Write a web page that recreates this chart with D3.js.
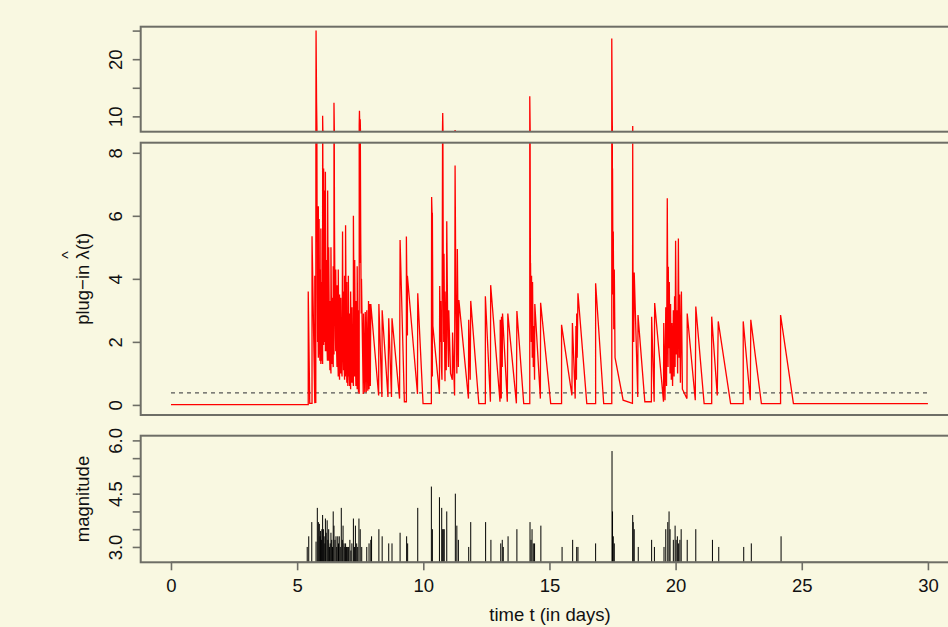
<!DOCTYPE html>
<html>
<head>
<meta charset="utf-8">
<script src="https://cdn.jsdelivr.net/npm/d3@7/dist/d3.min.js"></script>
<style>
  body { margin: 0; background: #f9f8e1; }
  svg { display: block; font-family: "Liberation Sans", Arial, Helvetica, sans-serif; }
</style>
</head>
<body>
<svg id="chart" width="948" height="627"></svg>
<script>
// plug-in intensity, [time in days, lambda]
var lambdaPts = [
  [0,0.01],[5.44,0.01],[5.44,3.6],[5.50,0.05],[5.59,0.05],[5.59,5.35],[5.70,0.05],[5.70,4.1],[5.74,0.06],
  [5.75,25.0],[5.77,12.5],[5.79,6.3],[5.80,3.5],[5.81,2.0],[5.81,5.0],[5.83,2.6],[5.84,1.5],[5.84,6.3],
  [5.86,2.5],[5.87,1.6],[5.87,5.9],[5.89,2.4],[5.90,1.4],[5.90,4.3],[5.92,1.8],[5.94,1.3],[5.94,5.6],
  [5.96,2.0],[5.97,1.4],[5.97,3.9],[5.99,1.6],[6.01,1.3],[6.01,10.1],[6.03,4.8],[6.04,2.6],[6.05,1.9],
  [6.05,7.5],[6.07,3.4],[6.09,2.0],[6.09,6.8],[6.11,3.0],[6.12,1.7],[6.12,7.4],[6.14,3.0],[6.16,1.7],
  [6.16,4.6],[6.18,2.0],[6.20,1.4],[6.21,6.8],[6.23,2.6],[6.25,1.4],[6.25,5.0],[6.28,1.9],[6.30,1.1],
  [6.30,3.3],[6.32,1.5],[6.34,1.0],[6.34,5.0],[6.37,1.9],[6.39,1.3],[6.39,3.4],[6.41,1.5],[6.43,1.2],
  [6.43,4.4],[6.45,2.2],[6.46,1.6],[6.46,12.4],[6.48,5.8],[6.50,3.2],[6.52,2.1],[6.53,1.7],[6.53,4.3],
  [6.56,1.9],[6.58,1.2],[6.58,3.8],[6.61,1.6],[6.63,0.9],[6.63,4.3],[6.66,1.6],[6.68,0.8],[6.68,3.5],
  [6.71,1.4],[6.73,1.0],[6.73,3.4],[6.75,1.3],[6.78,0.9],[6.80,5.5],[6.82,2.0],[6.84,1.1],[6.84,3.6],
  [6.86,1.4],[6.88,0.8],[6.88,4.1],[6.90,1.5],[6.91,0.9],[6.92,5.7],[6.95,1.6],[6.97,0.7],[6.97,3.9],
  [6.99,1.3],[7.01,0.6],[7.01,2.5],[7.03,0.9],[7.03,4.1],[7.06,1.1],[7.08,0.6],[7.08,2.9],[7.10,1.0],
  [7.12,0.5],[7.12,3.6],[7.15,1.2],[7.17,0.7],[7.17,3.1],[7.20,1.0],[7.23,0.6],[7.23,6.0],[7.26,2.2],
  [7.28,0.9],[7.28,4.6],[7.31,1.5],[7.33,0.6],[7.33,3.3],[7.36,1.1],[7.38,0.5],[7.38,4.4],[7.41,1.4],
  [7.43,0.4],[7.43,3.0],[7.45,0.8],[7.46,0.35],[7.46,8.5],[7.47,11.0],[7.49,6.8],[7.50,4.5],[7.50,9.5],
  [7.52,5.4],[7.54,2.9],[7.55,4.0],[7.62,0.35],[7.63,2.9],[7.68,0.4],[7.70,2.95],[7.74,0.4],[7.76,3.0],
  [7.80,0.45],[7.83,3.3],[7.85,0.5],[7.87,3.2],[7.90,0.6],[7.92,3.2],[8.23,0.3],[8.24,3.2],[8.36,0.25],
  [8.37,3.0],[8.60,0.25],[8.63,2.75],[8.74,0.25],[8.76,2.75],[9.06,0.2],[9.08,5.23],[9.25,0.1],[9.33,0.1],
  [9.33,5.34],[9.37,2.2],[9.37,4.1],[9.77,0.35],[9.78,3.54],[9.99,0.04],[10.32,0.04],[10.33,6.6],
  [10.35,6.0],[10.36,0.9],[10.36,6.1],[10.38,2.5],[10.64,0.35],[10.65,3.77],[10.68,2.0],[10.69,3.3],
  [10.72,1.2],[10.74,0.8],[10.77,10.6],[10.79,4.8],[10.81,2.0],[10.82,4.8],[10.85,1.5],[10.86,0.75],
  [10.86,3.6],[10.91,1.1],[10.93,5.83],[10.97,2.2],[11.00,1.2],[11.01,3.0],[11.08,1.0],[11.15,0.8],
  [11.16,2.3],[11.24,0.3],[11.26,7.6],[11.29,3.5],[11.33,1.0],[11.35,4.95],[11.38,2.0],[11.39,1.2],
  [11.41,3.33],[11.79,0.2],[11.80,2.7],[11.86,0.8],[11.88,3.3],[12.20,0.04],[12.46,0.04],[12.46,3.45],
  [12.66,0.1],[12.67,3.8],[13.04,0.1],[13.05,2.7],[13.09,0.2],[13.10,2.8],[13.13,1.2],[13.14,2.9],
  [13.33,0.1],[13.35,2.9],[13.69,0.05],[13.71,2.98],[13.98,0.04],[14.22,0.04],[14.22,13.5],[14.24,6.0],
  [14.25,3.0],[14.25,4.5],[14.28,2.0],[14.29,4.1],[14.32,1.5],[14.33,3.9],[14.36,1.2],[14.37,2.5],
  [14.41,0.8],[14.42,3.2],[14.64,0.2],[14.65,3.24],[15.05,0.04],[15.48,0.04],[15.48,2.54],[15.89,0.3],
  [15.91,2.6],[16.02,0.2],[16.05,2.5],[16.07,0.8],[16.08,2.9],[16.10,1.5],[16.13,3.54],[16.48,0.04],
  [16.83,0.04],[16.83,3.86],[17.15,0.04],[17.47,0.04],[17.47,23.6],[17.49,9.0],[17.50,5.0],[17.50,7.5],
  [17.52,3.5],[17.53,5.5],[17.55,2.4],[17.57,4.3],[17.60,1.5],[17.92,0.15],[18.29,0.05],[18.30,8.3],
  [18.31,4.5],[18.32,2.5],[18.32,4.0],[18.34,2.0],[18.36,4.2],[18.50,0.25],[18.51,2.85],[18.78,0.1],
  [19.04,0.1],[19.05,2.8],[19.15,0.1],[19.17,3.23],[19.52,0.1],[19.53,2.6],[19.58,0.15],[19.61,3.1],
  [19.64,0.6],[19.67,6.56],[19.69,3.0],[19.70,1.2],[19.71,4.38],[19.73,1.8],[19.75,3.9],[19.78,1.0],
  [19.80,3.2],[19.83,0.8],[19.85,2.6],[19.88,0.6],[19.91,3.0],[19.94,0.9],[19.96,3.45],[19.98,1.2],
  [20.00,5.21],[20.03,1.6],[20.05,3.0],[20.08,1.0],[20.11,5.28],[20.14,1.5],[20.16,3.5],[20.19,0.7],
  [20.23,3.6],[20.27,0.5],[20.45,0.2],[20.46,2.9],[20.78,0.15],[20.80,3.12],[21.13,0.04],[21.43,0.04],
  [21.43,2.8],[21.65,0.3],[21.69,2.65],[22.18,0.04],[22.68,0.04],[22.68,2.65],[22.96,0.15],[22.98,2.7],
  [23.40,0.04],[24.16,0.04],[24.16,2.85],[24.67,0.04],[30,0.04]
];

// earthquakes, [time in days, magnitude]
var quakes = [
  [5.40,3.0],[5.46,3.3],[5.58,3.7],[5.75,3.15],[5.80,4.1],[5.84,3.7],[5.88,3.65],[5.91,3.3],[5.93,3.45],
  [5.96,3.2],[5.98,3.5],[6.01,3.9],[6.04,3.5],[6.07,3.3],[6.10,3.1],[6.12,3.8],[6.15,3.4],[6.19,3.75],
  [6.22,3.2],[6.25,3.5],[6.28,3.0],[6.31,3.1],[6.34,3.4],[6.37,3.2],[6.40,3.0],[6.43,4.0],[6.46,3.6],
  [6.50,3.2],[6.54,3.3],[6.57,3.0],[6.61,3.3],[6.64,3.1],[6.67,3.3],[6.71,3.0],[6.75,4.1],[6.79,3.2],
  [6.82,3.6],[6.86,3.1],[6.89,3.0],[6.92,3.1],[6.96,3.0],[6.99,3.0],[7.04,3.0],[7.09,3.2],[7.13,2.9],
  [7.17,3.1],[7.23,3.8],[7.27,3.0],[7.31,3.6],[7.36,3.1],[7.40,3.0],[7.45,3.8],[7.50,3.5],[7.56,3.0],
  [7.76,3.0],[7.85,3.1],[7.92,3.2],[7.95,3.3],[8.24,3.5],[8.37,3.3],[8.63,3.1],[8.76,3.1],[9.08,3.4],
  [9.34,3.3],[9.38,3.1],[9.78,4.1],[10.32,4.7],[10.36,3.5],[10.64,4.4],[10.73,4.1],[10.77,3.5],
  [10.79,3.5],[10.83,3.5],[10.93,4.0],[11.27,4.5],[11.33,3.6],[11.39,3.2],[11.80,3.0],[11.88,3.7],
  [12.47,3.7],[12.68,3.2],[13.07,3.1],[13.13,3.2],[13.17,3.0],[13.36,3.3],[13.71,3.5],[14.23,3.7],
  [14.27,3.2],[14.31,3.5],[14.36,3.1],[14.41,3.1],[14.66,3.6],[15.50,3.0],[15.92,3.2],[16.08,3.0],
  [16.13,3.0],[16.83,3.1],[17.48,5.7],[17.50,4.0],[17.53,3.3],[17.57,3.1],[18.30,3.9],[18.32,3.7],
  [18.36,3.5],[18.52,3.0],[19.05,3.2],[19.16,3.0],[19.54,3.0],[19.61,3.5],[19.69,3.7],[19.74,4.0],
  [19.78,3.5],[19.91,3.2],[19.98,3.6],[20.02,3.2],[20.07,3.3],[20.12,3.1],[20.17,3.2],[20.22,3.5],
  [20.46,3.2],[20.80,3.5],[21.46,3.2],[21.71,3.0],[22.70,3.0],[23.00,3.1],[24.18,3.3]
];

var meanRate = 0.38;
var xTicks = [0, 5, 10, 15, 20, 25, 30];
var topTicks = [10, 15, 20, 25];
var topLabels = [10, 20];
var midTicks = [0, 2, 4, 6, 8];
var magTicks = [3.0, 3.5, 4.0, 4.5, 5.0, 5.5, 6.0];
var magLabels = [3.0, 4.5, 6.0];

var svg = d3.select("#chart");
var boxColor = "#6e6e66";
var fontSize = "18.5px";

// x scale shared by all three panels (box runs off the right edge)
var x = d3.scaleLinear().domain([-1.2, 31.2]).range([140.7, 958.2]);

var yTop = d3.scaleLinear().domain([7.32, 25.68]).range([131.7, 26.7]);
var yMid = d3.scaleLinear().domain([-0.32, 8.32]).range([415, 142.7]);
var yMag = d3.scaleLinear().domain([2.568, 6.132]).range([562.3, 435.7]);

var defs = svg.append("defs");

function makePanel(id, y) {
    var r = y.range();
    defs.append("clipPath").attr("id", id)
        .append("rect")
        .attr("x", x.range()[0]).attr("y", r[1])
        .attr("width", x.range()[1] - x.range()[0]).attr("height", r[0] - r[1]);
    return svg.append("g").attr("clip-path", "url(#" + id + ")");
}

function drawBox(y) {
    var r = y.range();
    svg.append("rect")
        .attr("x", x.range()[0]).attr("y", r[1])
        .attr("width", x.range()[1] - x.range()[0]).attr("height", r[0] - r[1])
        .attr("fill", "none")
        .attr("stroke", boxColor)
        .attr("stroke-width", 2);
}

function drawYAxis(y, ticks, labels, fmt) {
    var g = svg.append("g")
        .attr("transform", "translate(" + x.range()[0] + ",0)")
        .call(d3.axisLeft(y).tickValues(ticks).tickSize(8)
            .tickFormat(function(d) { return labels.indexOf(d) >= 0 ? fmt(d) : ""; }));
    g.select(".domain").remove();
    g.selectAll(".tick line").attr("stroke", boxColor).attr("stroke-width", 1.6);
    g.selectAll(".tick text")
        .attr("transform", "rotate(-90)")
        .attr("x", 0).attr("y", -19).attr("dy", 0)
        .attr("text-anchor", "middle")
        .attr("fill", "#111")
        .style("font-size", fontSize);
}

// intensity line (drawn twice, clipped into the upper and middle panel)
var lambdaLine = d3.line()
    .x(function(d) { return x(d[0]); });

var topG = makePanel("clipTop", yTop);
topG.append("path")
    .datum(lambdaPts)
    .attr("d", lambdaLine.y(function(d) { return yTop(d[1]); }))
    .attr("fill", "none")
    .attr("stroke", "#ff0000")
    .attr("stroke-width", 1.3);

var midG = makePanel("clipMid", yMid);
midG.append("line")
    .attr("x1", x(0)).attr("x2", x(30))
    .attr("y1", yMid(meanRate)).attr("y2", yMid(meanRate))
    .attr("stroke", "#555")
    .attr("stroke-width", 1.2)
    .attr("stroke-dasharray", "4,4");
midG.append("path")
    .datum(lambdaPts)
    .attr("d", lambdaLine.y(function(d) { return yMid(d[1]); }))
    .attr("fill", "none")
    .attr("stroke", "#ff0000")
    .attr("stroke-width", 1.3);

// magnitude spikes
var magG = makePanel("clipMag", yMag);
magG.selectAll("line")
    .data(quakes)
    .enter().append("line")
    .attr("x1", function(d) { return x(d[0]); })
    .attr("x2", function(d) { return x(d[0]); })
    .attr("y1", yMag.range()[0])
    .attr("y2", function(d) { return yMag(d[1]); })
    .attr("stroke", "#000")
    .attr("stroke-width", 1);

drawBox(yTop);
drawBox(yMid);
drawBox(yMag);

drawYAxis(yTop, topTicks, topLabels, d3.format("d"));
drawYAxis(yMid, midTicks, midTicks, d3.format("d"));
drawYAxis(yMag, magTicks, magLabels, d3.format(".1f"));

// x axis under the bottom panel
var gx = svg.append("g")
    .attr("transform", "translate(0," + yMag.range()[0] + ")")
    .call(d3.axisBottom(x).tickValues(xTicks).tickSize(8).tickPadding(8.5));
gx.select(".domain")
    .attr("d", "M" + x(0) + ",0H" + x(30))
    .attr("stroke", boxColor)
    .attr("stroke-width", 1.6);
gx.selectAll(".tick line").attr("stroke", boxColor).attr("stroke-width", 1.6);
gx.selectAll(".tick text").attr("fill", "#111").style("font-size", fontSize);

svg.append("text")
    .attr("x", 550).attr("y", 621)
    .attr("text-anchor", "middle")
    .attr("fill", "#111")
    .style("font-size", fontSize)
    .text("time t (in days)");

svg.append("text")
    .attr("transform", "translate(89," + (yMag.range()[0] + yMag.range()[1]) / 2 + ") rotate(-90)")
    .attr("text-anchor", "middle")
    .attr("fill", "#111")
    .style("font-size", fontSize)
    .text("magnitude");

// lambda-hat label
var lamG = svg.append("g")
    .attr("transform", "translate(89," + (yMid.range()[0] + yMid.range()[1]) / 2 + ") rotate(-90)");
var lamText = lamG.append("text")
    .attr("text-anchor", "middle")
    .attr("fill", "#111")
    .style("font-size", fontSize)
    .text("plug\u2212in \u03bb(t)");
var lamPos = lamText.node().getStartPositionOfChar(8);
var lamW = lamText.node().getSubStringLength(8, 1);
lamG.append("text")
    .attr("x", lamPos.x + lamW / 2)
    .attr("y", -15)
    .attr("text-anchor", "middle")
    .attr("fill", "#111")
    .style("font-size", "16px")
    .text("^");
</script>
</body>
</html>
